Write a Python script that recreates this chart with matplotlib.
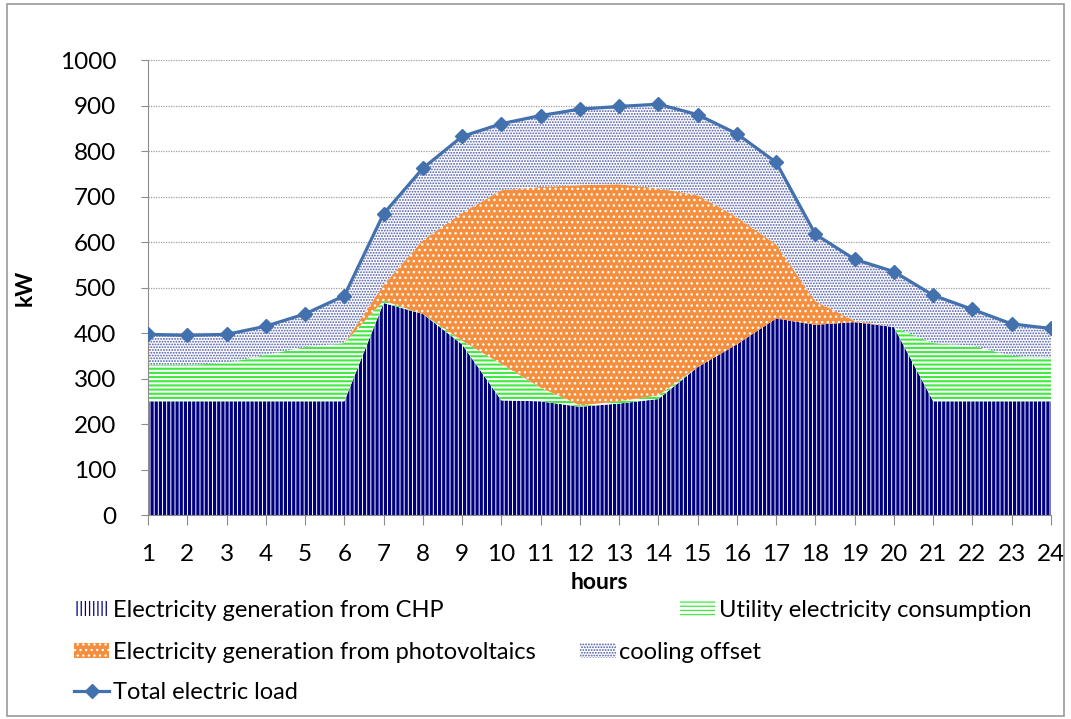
import numpy as np
import matplotlib
matplotlib.use('Agg')
import matplotlib.pyplot as plt
from matplotlib.patches import Patch, Rectangle
from matplotlib.lines import Line2D

plt.rcParams['font.family'] = ['Lato', 'DejaVu Sans']

horas = np.arange(1, 25)
chp = [250, 250, 250, 250, 250, 250, 466, 442, 375, 252, 250, 238,
       245, 255, 325, 375, 432, 418, 424, 413, 250, 250, 250, 250]
utility = [80, 80, 84, 102, 119, 128, 5, 0, 8, 80, 30, 3,
           5, 8, 0, 0, 0, 0, 0, 0, 128, 122, 100, 95]
pv = [0, 0, 0, 0, 0, 0, 35, 162, 281, 382, 441, 484,
      477, 455, 378, 280, 163, 52, 3, 0, 0, 0, 0, 0]
cooling = [67, 65, 63, 63, 73, 104, 157, 158, 168, 146, 157, 167,
           171, 185, 177, 183, 180, 147, 135, 122, 105, 80, 70, 65]
carga_total = [397, 395, 397, 415, 442, 482, 662, 762, 832, 860, 878, 892,
               898, 903, 880, 838, 775, 617, 562, 535, 483, 452, 420, 410]

rotulos = ['Electricity generation from CHP', 'Utility electricity consumption',
           'Electricity generation from photovoltaics', 'cooling offset',
           'Total electric load']

# estilo de cada camada: (face, cor da hachura, hachura, espessura)
estilos = [
    ('white', '#000080', '||||', 2.3),
    ('white', '#3EEA3E', '----', 1.5),
    ('#F58F3E', 'white', '...', 1.0),
    ('white', '#4B58A8', '......', 0.9),
]
cor_linha = '#4371AE'

fig = plt.figure(figsize=(10.71, 7.19), dpi=100)
fig.patches.append(Rectangle((0.007, 0.004), 0.986, 0.99, transform=fig.transFigure,
                             fill=False, edgecolor='#9a9a9a', linewidth=1.2))
ax = fig.add_axes([0.1382, 0.2837, 0.8431, 0.6328])

camadas = [chp, utility, pv, cooling]
base = np.zeros(len(horas))
handles = []
for valores, (face, hcor, hatch, hlw) in zip(camadas, estilos):
    topo = base + np.array(valores)
    plt.rcParams['hatch.linewidth'] = hlw
    poly = ax.fill_between(horas, base, topo, facecolor=face, edgecolor=hcor,
                           hatch=hatch, linewidth=0, zorder=2)
    if hasattr(poly, 'set_hatch_linewidth'):
        poly.set_hatch_linewidth(hlw)
    h = Patch(facecolor=face, edgecolor=hcor, hatch=hatch, linewidth=0)
    if hasattr(h, 'set_hatch_linewidth'):
        h.set_hatch_linewidth(hlw)
    handles.append(h)
    base = topo

ax.plot(horas, carga_total, color=cor_linha, linewidth=2.3, marker='D',
        markersize=7, zorder=4)
handles.append(Line2D([], [], color=cor_linha, linewidth=2.3, marker='D', markersize=7))

ax.set_xlim(1, 24)
ax.set_ylim(0, 1000)
ax.set_xticks(horas)
ax.set_yticks(np.arange(0, 1001, 100))
ax.yaxis.grid(True, color='#a0a0a0', linestyle=(0, (1, 1)), linewidth=0.9, zorder=0)
ax.set_axisbelow(True)
for lado in ['top', 'right']:
    ax.spines[lado].set_visible(False)
for lado in ['left', 'bottom']:
    ax.spines[lado].set_color('#8c8c8c')
ax.tick_params(axis='x', length=7, color='#8c8c8c', labelsize=17.5, pad=14)
ax.tick_params(axis='y', length=5, color='#8c8c8c', labelsize=17.5, pad=18)
ax.set_xlabel('hours', fontsize=16.5, fontweight='bold', labelpad=5)
ax.set_ylabel('kW', fontsize=16.5, fontweight='bold', labelpad=17)

props = dict(frameon=False, fontsize=17, handlelength=1.5, handleheight=0.6,
             handletextpad=0.15, borderaxespad=0, borderpad=0)
leg1 = fig.legend(handles[0:2], rotulos[0:2], loc='center left', ncol=2,
                  bbox_to_anchor=(0.069, 0.151), columnspacing=10.0, **props)
leg2 = fig.legend(handles[2:4], rotulos[2:4], loc='center left', ncol=2,
                  bbox_to_anchor=(0.069, 0.093), columnspacing=1.9, **props)
leg3 = fig.legend(handles[4:5], rotulos[4:5], loc='center left',
                  bbox_to_anchor=(0.069, 0.037), **props)

fig.savefig('out.png', dpi=100)
